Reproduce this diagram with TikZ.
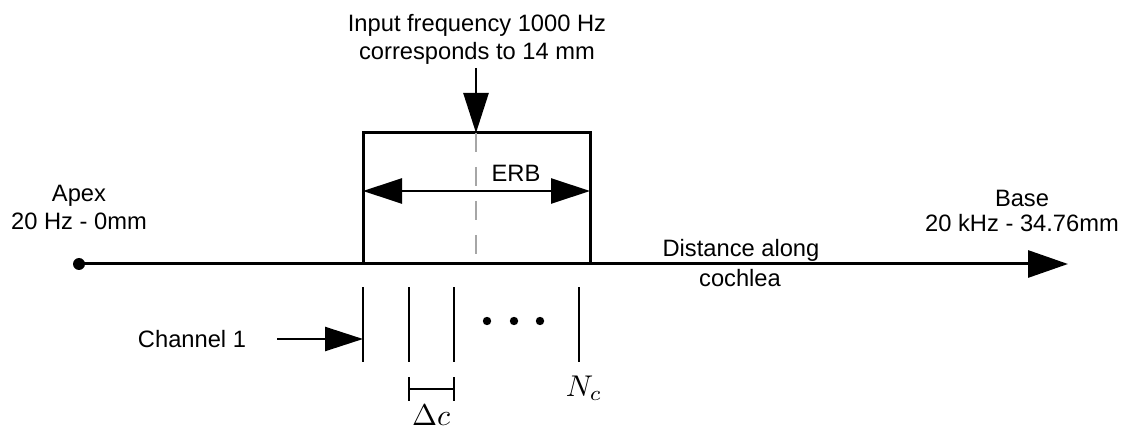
\documentclass[tikz,border=0pt]{standalone}
\usepackage{fontspec}
\setmainfont{Liberation Sans}
\usetikzlibrary{arrows.meta}
\tikzset{
  lbl/.style={anchor=base, inner sep=0pt, font=\fontsize{23.7}{28}\selectfont},
  mlbl/.style={anchor=base, inner sep=0pt, scale=3, font=\fontsize{10}{12}\selectfont},
  thick line/.style={line width=3pt, black},
  chan/.style={line width=2.4pt, black},
  bigtip/.style={-{Triangle[length=40pt,width=27pt]}},
}
\begin{document}
\begin{tikzpicture}[x=1pt,y=-1pt]
\useasboundingbox (0,0) rectangle (1129,430);
% coordinates
\coordinate (apex) at (79,264);
\coordinate (tip) at (1068,264);
\coordinate (bl) at (363,264);
\coordinate (br) at (590,264);
\coordinate (tl) at (363,133);
\coordinate (tr) at (590,133);
\coordinate (ctop) at (476,133);
\coordinate (cbot) at (476,264);
\coordinate (astart) at (476,68);
\coordinate (erbl) at (363,191);
\coordinate (erbr) at (590,191);
% axis
\draw[thick line, bigtip] (apex) -- (tip);
\fill (apex) circle (6);
% box
\draw[thick line] (bl) -- (tl) -- (tr) -- (br);
% dashed centre
\draw[line width=2.2pt, gray!70, dash pattern=on 19pt off 15pt] (ctop) -- (cbot);
% input arrow
\draw[line width=2.6pt, -{Triangle[length=40pt,width=25pt]}] (astart) -- (ctop);
% ERB arrow
\draw[line width=2.6pt, {Triangle[length=39pt,width=25pt]}-{Triangle[length=39pt,width=25pt]}] (erbl) -- (erbr);
\node[lbl] (erb) at (516,182) {ERB};
% title
\node[lbl] (t1) at (477,32) {Input frequency 1000 Hz};
\node[lbl] (t2) at (477,60) {corresponds to 14 mm};
% apex / base
\node[lbl] (ap1) at (79,202) {Apex};
\node[lbl] (ap2) at (79,230) {20 Hz - 0mm};
\node[lbl] (bs1) at (1022,207) {Base};
\node[lbl] (bs2) at (1022,232) {20 kHz - 34.76mm};
\node[lbl] (d1) at (741,257) {Distance along};
\node[lbl] (d2) at (740,287) {cochlea};
% channels
\coordinate (c1t) at (363,287); \coordinate (c1b) at (363,362);
\coordinate (c2t) at (409,287); \coordinate (c2b) at (409,362);
\coordinate (c3t) at (454,287); \coordinate (c3b) at (454,362);
\coordinate (c4t) at (579,287); \coordinate (c4b) at (579,362);
\draw[chan] (c1t) -- (c1b);
\draw[chan] (c2t) -- (c2b);
\draw[chan] (c3t) -- (c3b);
\draw[chan] (c4t) -- (c4b);
\fill (487,321) circle (4.2) (514,321) circle (4.2) (540,321) circle (4.2);
% channel 1 label
\node[lbl] (ch1) at (192,347) {Channel 1};
\coordinate (chs) at (277,339);
\coordinate (che) at (363,339);
\draw[line width=2.4pt, -{Triangle[length=38pt,width=24pt]}] (chs) -- (che);
% delta c bracket
\coordinate (dl) at (409,389);
\coordinate (dr) at (454,389);
\draw[chan] (dl) -- (dr);
\draw[chan] (409,377) -- (409,401) (454,377) -- (454,401);
\node[mlbl] (dc) at (431,425) {$\Delta c$};
\node[mlbl] (nc) at (584,396) {$N_c$};
\end{tikzpicture}
\end{document}
